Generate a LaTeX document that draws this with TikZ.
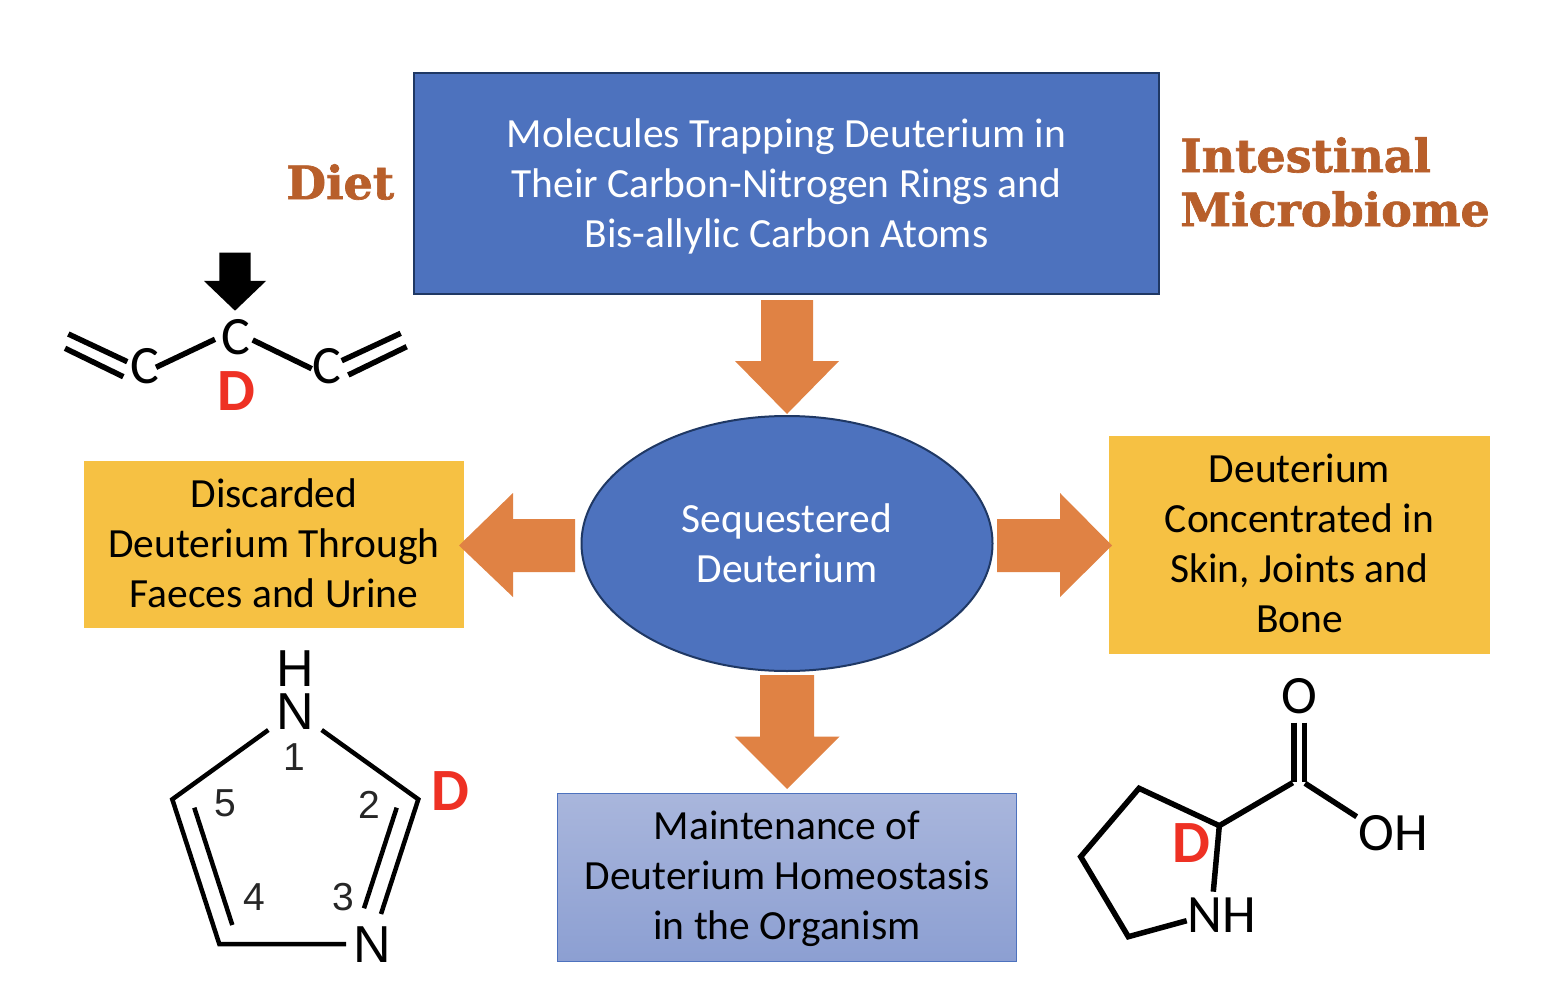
\documentclass[tikz,border=0pt]{standalone}
\usepackage{fontspec}
\setmainfont{Carlito}
\newfontfamily\arialf{Liberation Sans}
\newfontfamily\slabf{DejaVu Serif}[BoldFont={DejaVu Serif Bold},BoldFeatures={FakeBold=1.5}]
\usetikzlibrary{shapes.geometric}
\definecolor{boxblue}{HTML}{4D72BE}
\definecolor{darkedge}{HTML}{1F3864}
\definecolor{amber}{HTML}{F6C143}
\definecolor{orangearrow}{HTML}{E08244}
\definecolor{redD}{HTML}{EE3124}
\definecolor{brownhead}{HTML}{B85F2B}
\definecolor{gradtop}{HTML}{A9B6DC}
\definecolor{gradbot}{HTML}{8C9FD2}
\tikzset{
  x=1pt,y=-1pt,
  boxtext/.style={font=\fontsize{41.5}{50}\selectfont,align=center,inner sep=0pt,text depth=0pt},
  bluebox/.style={boxtext,rectangle,fill=boxblue,draw=darkedge,line width=2pt,text=white},
  amberbox/.style={boxtext,rectangle,fill=amber,text=black},
  blockarrow/.style={fill=orangearrow,draw=none},
  heading/.style={font=\fontsize{46}{54}\slabf\bfseries,text=brownhead,inner sep=0pt,align=left},
  deut/.style={font=\fontsize{60}{60}\selectfont\bfseries,text=redD,inner sep=0pt},
  atomc/.style={font=\fontsize{54}{54}\selectfont,inner sep=0pt},
  atoma/.style={font=\fontsize{52}{43}\arialf,inner sep=0pt,align=center},
  digit/.style={font=\fontsize{39}{39}\arialf,inner sep=0pt,text=black!85},
  bondthick/.style={line width=5.5pt,black},
  bondthin/.style={line width=4.5pt,black},
}
\begin{document}
\begin{tikzpicture}
\useasboundingbox (0,0) rectangle (1544,1008);
\fill[white] (0,0) rectangle (1544,1008);
% boxes
\node[bluebox,minimum width=745pt,minimum height=221pt] (top) at (786.5,183.5) {Molecules Trapping Deuterium in\\Their Carbon-Nitrogen Rings and\\Bis-allylic Carbon Atoms};
\node[bluebox,shape=ellipse,minimum width=411pt,minimum height=255pt] (seq) at (787,543.5) {Sequestered\\Deuterium};
\node[amberbox,text depth=2pt,minimum width=380pt,minimum height=167pt] (disc) at (274,544.5) {Discarded\\Deuterium Through\\Faeces and Urine};
\node[amberbox,text depth=4pt,minimum width=381pt,minimum height=218pt] (conc) at (1299.5,545) {Deuterium\\Concentrated in\\Skin, Joints and\\Bone};
\node[boxtext,text depth=4pt,rectangle,draw=boxblue,line width=1pt,top color=gradtop,bottom color=gradbot,minimum width=459pt,minimum height=168pt] (main) at (787,877) {Maintenance of\\Deuterium Homeostasis\\in the Organism};
% block arrows
\fill[blockarrow] (761,300) -- (813,300) -- (813,361) -- (839,361) -- (787,414) -- (735,361) -- (761,361) -- cycle;
\fill[blockarrow] (760,675) -- (814,675) -- (814,736.5) -- (839.5,736.5) -- (787,789) -- (734.5,736.5) -- (760,736.5) -- cycle;
\fill[blockarrow] (575,519) -- (575,572) -- (513,572) -- (513,597) -- (459,545.5) -- (513,493) -- (513,519) -- cycle;
\fill[blockarrow] (997,519) -- (997,572) -- (1060,572) -- (1060,597) -- (1112,545.5) -- (1060,493) -- (1060,519) -- cycle;
% headings
\node[heading,anchor=west] (diet) at (286,182) {Diet};
\node[heading,anchor=west] (intest) at (1180,182) {Intestinal\\Microbiome};
% molecule 1
\fill[black] (219.3,252.7) -- (250.7,252.7) -- (250.7,281) -- (266,281) -- (235,310.7) -- (204,281) -- (219.3,281) -- cycle;
\node[atomc] (c1) at (145.3,366.5) {C};
\node[atomc] (c2) at (236,337.5) {C};
\node[atomc] (c3) at (327,366.5) {C};
\node[deut] (d1) at (236.7,391) {D};
\draw[bondthick] (68.3,334) -- (127.3,361.7);
\draw[bondthick] (65,348.3) -- (123.3,376.7);
\draw[bondthick] (156,367.3) -- (215,339.3);
\draw[bondthick] (252.7,340) -- (311.7,368.7);
\draw[bondthick] (341.7,360.7) -- (400.7,333.3);
\draw[bondthick] (348.3,375) -- (406.7,346.7);
% molecule 2
\node[atoma] (hn2) at (295.5,690.5) {H\\N};
\node[atoma] (n2b) at (372,945) {N};
\node[digit] (n1) at (294.8,757) {1};
\node[digit] (n2) at (369.8,805) {2};
\node[digit] (n3) at (343.2,897) {3};
\node[digit] (n4) at (254.8,897) {4};
\node[digit] (n5) at (225.5,803) {5};
\node[deut] (d2) at (450,791) {D};
\draw[bondthin,line join=miter] (268.3,730) -- (172.3,799.3) -- (219.3,944) -- (346,944);
\draw[bondthin,line join=miter] (321.7,730) -- (418.3,799.3) -- (381,914);
\draw[bondthin] (194.3,807.7) -- (232.3,925);
\draw[bondthin] (396.7,807.7) -- (364,908.3);
% molecule 3
\node[atomc] (o3) at (1299.3,696.5) {O};
\node[atomc] (oh3) at (1393.5,833.5) {OH};
\node[atomc] (nh3) at (1222,915.5) {NH};
\node[deut] (d3) at (1191,843) {D};
\draw[bondthick] (1294,722.7) -- (1294,781.7);
\draw[bondthick] (1304.3,722.7) -- (1304.3,781.7);
\draw[bondthick] (1219.3,825.7) -- (1292.7,782.7);
\draw[bondthick] (1305,783.3) -- (1356.7,816.7);
\draw[bondthick,line join=miter] (1213.3,891.7) -- (1219.3,825.7) -- (1139,788.3) -- (1080.7,856.7) -- (1128.3,936.7) -- (1186.7,920.7);
\end{tikzpicture}
\end{document}
